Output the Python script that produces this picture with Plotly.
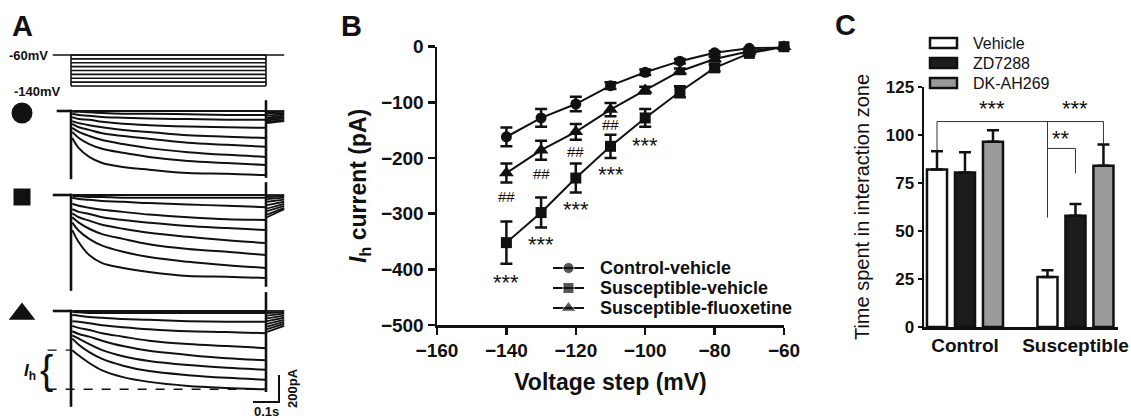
import plotly.graph_objects as go

W, H = 1131, 418
FONT = "Liberation Sans, Arial, sans-serif"
INK = "#111111"

# ---------------- Panel B data (I-V relation) ----------------
voltage_mV = [-140, -130, -120, -110, -100, -90, -80, -70, -60]
ctrl_vehicle = [-162, -128, -103, -70, -46, -26, -11, -3, 0]
ctrl_vehicle_sem = [17, 16, 13, 6, 5, 4, 3, 2, 0]
susc_vehicle = [-352, -298, -236, -179, -128, -81, -38, -12, 0]
susc_vehicle_sem = [38, 27, 26, 21, 16, 10, 6, 4, 0]
susc_fluox = [-227, -186, -153, -113, -78, -44, -22, -8, 0]
susc_fluox_sem = [17, 17, 14, 12, 6, 5, 4, 3, 0]
hash_marks_V = [-140, -130, -120, -110]
hash_marks_y = [-269, -227, -188, -139]
star_marks_V = [-140, -130, -120, -110, -100]
star_marks_y = [-418, -349, -287, -224, -172]

# ---------------- Panel C data (social interaction) ----------------
groups = ["Control", "Susceptible"]
vehicle_mean = [82, 26]
vehicle_sem = [9.5, 3.5]
zd7288_mean = [80.5, 58]
zd7288_sem = [10.5, 6]
dkah269_mean = [96.5, 84]
dkah269_sem = [6, 11]

# ---------------- Panel A data (example traces) ----------------
step_time_s = [0.005, 0.03, 0.07, 0.12, 0.2, 0.3, 0.45, 0.6, 0.75]
protocol_mV = [-60, -70, -80, -90, -100, -110, -120, -130, -140]
circle_pA = [
    [0, 0, 0, 0, 0, 0, 0, 0, 0],
    [-5, -5, -10, -15, -20, -20, -25, -30, -30],
    [-20, -30, -35, -45, -50, -55, -60, -65, -65],
    [-45, -60, -65, -80, -95, -105, -115, -120, -125],
    [-75, -90, -105, -120, -140, -155, -180, -190, -200],
    [-95, -120, -140, -165, -185, -205, -235, -250, -265],
    [-125, -155, -185, -215, -245, -275, -305, -325, -340],
    [-155, -200, -245, -280, -310, -340, -370, -385, -400],
    [-200, -275, -340, -385, -415, -435, -460, -465, -475],
]
square_pA = [
    [0, 0, 0, 0, 0, 0, 0, 0, 0],
    [-5, -10, -15, -15, -20, -20, -20, -20, -20],
    [-20, -30, -35, -45, -50, -60, -70, -80, -90],
    [-65, -80, -95, -110, -125, -145, -165, -180, -185],
    [-105, -125, -140, -165, -185, -205, -230, -245, -260],
    [-135, -165, -190, -220, -250, -280, -310, -335, -355],
    [-165, -205, -250, -290, -325, -365, -400, -420, -445],
    [-205, -265, -325, -375, -420, -460, -495, -520, -540],
    [-260, -350, -445, -505, -540, -570, -600, -605, -615],
]
triangle_pA = [
    [0, 0, 0, 0, 0, 0, 0, 0, 0],
    [-5, -10, -15, -15, -15, -15, -15, -15, -15],
    [-30, -35, -45, -50, -60, -65, -75, -80, -80],
    [-75, -80, -90, -105, -120, -135, -150, -155, -165],
    [-110, -125, -140, -165, -190, -220, -245, -260, -275],
    [-150, -170, -190, -220, -260, -295, -325, -350, -365],
    [-180, -205, -245, -290, -335, -370, -400, -420, -435],
    [-205, -250, -305, -355, -405, -445, -475, -495, -510],
    [-290, -330, -385, -440, -490, -525, -555, -570, -580],
]
circle_tail_start = [0, -10, -20, -35, -50, -60, -70, -80, -90]
circle_tail_end = [0, -5, -15, -25, -35, -45, -55, -65, -75]
square_tail_start = [0, -15, -30, -50, -75, -100, -120, -145, -165]
square_tail_end = [0, -10, -20, -35, -50, -65, -80, -95, -105]
triangle_tail_start = [0, -15, -35, -55, -75, -95, -115, -135, -155]
triangle_tail_end = [0, -10, -20, -35, -50, -65, -80, -95, -110]
onset_peak_pA = {"circle": -505, "square": -710, "triangle": -710}
offset_range_pA = {"circle": (80, -495), "square": (95, -680), "triangle": (140, -600)}
scale_bar_s = 0.1
scale_bar_pA = 200

# ---------------- layout helpers ----------------
def xdom(p0, p1):
    return [p0 / W, p1 / W]

def ydom(ptop, pbot):
    return [1 - pbot / H, 1 - ptop / H]

fig = go.Figure()

# ---------- Panel A geometry ----------
STEP_PX, PX_PER_S = 71, 260.0
PA_PER_PX = 200 / 27.0
STEP_END = step_time_s[-1]
base_px = {"circle": 111, "square": 195, "triangle": 311}
pre_t = {"circle": -0.055, "square": -0.07, "triangle": -0.07}

def ay(group, v):
    return -base_px[group] * PA_PER_PX + v

trace_sets = {
    "circle": (circle_pA, circle_tail_start, circle_tail_end),
    "square": (square_pA, square_tail_start, square_tail_end),
    "triangle": (triangle_pA, triangle_tail_start, triangle_tail_end),
}
for g, (trs, ts, te) in trace_sets.items():
    xs, ys = [], []
    for tr in trs:
        xs += step_time_s + [None]
        ys += [ay(g, v) for v in tr] + [None]
    fig.add_trace(go.Scatter(x=xs, y=ys, mode="lines", line=dict(color=INK, width=2, shape="spline"),
                             xaxis="x3", yaxis="y3", showlegend=False, hoverinfo="skip"))
    xs, ys = [], []
    for a, b in zip(ts, te):
        xs += [STEP_END + 0.004, STEP_END + 0.07, None]
        ys += [ay(g, a), ay(g, b), None]
    fig.add_trace(go.Scatter(x=xs, y=ys, mode="lines", line=dict(color=INK, width=1.8),
                             xaxis="x3", yaxis="y3", showlegend=False, hoverinfo="skip"))
    on = onset_peak_pA[g]
    off = offset_range_pA[g]
    fig.add_trace(go.Scatter(x=[pre_t[g], 0, None, 0, 0, None, STEP_END, STEP_END],
                             y=[ay(g, 0), ay(g, 0), None, ay(g, 10), ay(g, on), None, ay(g, off[0]), ay(g, off[1])],
                             mode="lines", line=dict(color=INK, width=2.6),
                             xaxis="x3", yaxis="y3", showlegend=False, hoverinfo="skip"))

# I_h dashed markers (triangle cell)
ih_top = ay("triangle", triangle_pA[-1][0])
ih_bot = ay("triangle", triangle_pA[-1][-1])
fig.add_trace(go.Scatter(x=[-0.09, 0, None, -0.09, STEP_END], y=[ih_top, ih_top, None, ih_bot, ih_bot],
                         mode="lines", line=dict(color=INK, width=1.4, dash="dash"),
                         xaxis="x3", yaxis="y3", showlegend=False, hoverinfo="skip"))
# scale bars
sb_t = 0.8
sb_y = -402 * PA_PER_PX
fig.add_trace(go.Scatter(x=[sb_t - scale_bar_s, sb_t, sb_t], y=[sb_y, sb_y, sb_y + scale_bar_pA],
                         mode="lines", line=dict(color=INK, width=2),
                         xaxis="x3", yaxis="y3", showlegend=False, hoverinfo="skip"))

# voltage protocol
pxs, pys = [pre_t["square"], STEP_END + 0.07, None], [protocol_mV[0], protocol_mV[0], None]
for v in protocol_mV:
    pxs += [0, STEP_END, None]
    pys += [v, v, None]
pxs += [0, 0, None, STEP_END, STEP_END]
pys += [protocol_mV[0], protocol_mV[-1], None, protocol_mV[0], protocol_mV[-1]]
fig.add_trace(go.Scatter(x=pxs, y=pys, mode="lines", line=dict(color=INK, width=1.6),
                         xaxis="x4", yaxis="y4", showlegend=False, hoverinfo="skip"))

# group symbols (overlay pixel axis)
fig.add_trace(go.Scatter(x=[22, 22, 22], y=[113, 197, 314], mode="markers",
                         marker=dict(symbol=["circle", "square", "triangle-up"], size=[21, 17, 23],
                                     color="#111111", opacity=1, line=dict(width=0)),
                         xaxis="x5", yaxis="y5", showlegend=False, hoverinfo="skip"))

# ---------- Panel B ----------
bspec = [
    ("Control-vehicle", ctrl_vehicle, ctrl_vehicle_sem, "circle", 11),
    ("Susceptible-vehicle", susc_vehicle, susc_vehicle_sem, "square", 11),
    ("Susceptible-fluoxetine", susc_fluox, susc_fluox_sem, "triangle-up", 13),
]
for name, m, e, sym, sz in bspec:
    fig.add_trace(go.Scatter(x=voltage_mV, y=m, name=name, mode="lines+markers",
                             line=dict(color=INK, width=2),
                             marker=dict(symbol=sym, size=sz, color=INK),
                             error_y=dict(type="data", array=e, color=INK, thickness=2.5, width=6),
                             cliponaxis=False, xaxis="x", yaxis="y", showlegend=False))
LEG_B_Y = [268, 288, 308]
for (name, m, e, sym, sz), yy in zip(bspec, LEG_B_Y):
    fig.add_trace(go.Scatter(x=[553, 568.5, 584], y=[yy, yy, yy], mode="lines+markers",
                             line=dict(color=INK, width=2),
                             marker=dict(symbol=sym, size=[0, sz, 0], color=INK),
                             xaxis="x5", yaxis="y5", showlegend=False, hoverinfo="skip"))

# ---------- Panel C ----------
BARGAP, GROUPGAP = 0.24, 0.284
cspec = [("Vehicle", vehicle_mean, vehicle_sem, "#ffffff"),
         ("ZD7288", zd7288_mean, zd7288_sem, "#1c1c1c"),
         ("DK-AH269", dkah269_mean, dkah269_sem, "#9a9a9a")]
for name, m, e, col in cspec:
    fig.add_trace(go.Bar(x=[0, 1], y=m, name=name, marker=dict(color=col, line=dict(color=INK, width=2.5)),
                         error_y=dict(type="data", array=e, arrayminus=[0, 0], symmetric=False,
                                      color=INK, thickness=2.5, width=6),
                         xaxis="x2", yaxis="y2", showlegend=False))

slot = (1 - BARGAP) / 3
cv, sv, sz_, sd = -slot, 1 - slot, 1.0, 1 + slot
shapes = []
def seg(x0, y0, x1, y1):
    shapes.append(dict(type="line", xref="x2", yref="y2", x0=x0, y0=y0, x1=x1, y1=y1,
                       line=dict(color="#333", width=1)))
seg(cv, 92, cv, 107); seg(cv, 107, sd, 107); seg(sd, 107, sd, 95); seg(sv, 107, sv, 57)
seg(sv, 93, sz_, 93); seg(sz_, 93, sz_, 80)

for i, (name, m, e, col) in enumerate(cspec):
    yc = 43 + 20 * i
    shapes.append(dict(type="rect", xref="paper", yref="paper", x0=930 / W, x1=957 / W,
                       y0=1 - (yc + 5) / H, y1=1 - (yc - 5) / H,
                       fillcolor=col, line=dict(color=INK, width=2.5)))

ann = []
def txt(x, y, s, size, xref="x5", yref="y5", bold=False, **kw):
    ann.append(dict(x=x, y=y, xref=xref, yref=yref, text=s, showarrow=False,
                    font=dict(family=FONT, size=size, color=INK, weight="bold" if bold else "normal"), **kw))

for i, (name, m, e, col) in enumerate(cspec):
    txt(971, 43 + 20 * i, name, 16, xanchor="left")
for (name, m, e, sym, sz), yy in zip(bspec, LEG_B_Y):
    txt(598, yy, name, 18, bold=True, xanchor="left")
txt((cv + sv) / 2, 114, "***", 22, xref="x2", yref="y2")
txt((sv + sd) / 2, 114, "***", 22, xref="x2", yref="y2")
txt((sv + sz_) / 2, 98, "**", 22, xref="x2", yref="y2")

for v, y in zip(hash_marks_V, hash_marks_y):
    txt(v, y, "##", 15, xref="x", yref="y")
for v, y in zip(star_marks_V, star_marks_y):
    txt(v, y - 6, "***", 22, xref="x", yref="y")

txt(22, 26, "A", 29, bold=True)
txt(351, 26, "B", 29, bold=True)
txt(845, 25, "C", 29, bold=True)
txt(50, 55, "-60mV", 13, bold=True, xanchor="right")
txt(12, 91, "-140mV", 13, bold=True, xanchor="left")
txt(46, 370, "{", 40)
txt(30, 372, "<i>I</i><sub>h</sub>", 17, bold=True)
txt(266, 411, "0.1s", 13, bold=True)
txt(292, 388, "200pA", 13, bold=True, textangle=-90)

# ---------- axes ----------
axis_common = dict(showgrid=False, zeroline=False, showline=True, linecolor=INK, linewidth=2.5,
                   ticks="outside", tickcolor=INK, tickwidth=2.5, automargin=False)
hidden = dict(visible=False, automargin=False, showgrid=False, zeroline=False, fixedrange=True)
a_x_range = [(0 - STEP_PX) / PX_PER_S, (300 - STEP_PX) / PX_PER_S]
mv_per_px = 80 / 31.0
fig.update_layout(
    template="none",
    width=W, height=H, margin=dict(l=0, r=0, t=0, b=0, pad=0, autoexpand=False),
    paper_bgcolor="white", plot_bgcolor="rgba(0,0,0,0)",
    font=dict(family=FONT, color=INK),
    showlegend=False,
    barmode="group", bargap=BARGAP, bargroupgap=GROUPGAP,
    xaxis=dict(domain=xdom(437, 784), range=[-160, -60], anchor="y", ticklen=7,
               tickvals=[-160, -140, -120, -100, -80, -60],
               tickfont=dict(size=19, weight="bold", color=INK, family=FONT),
               title=dict(text="<b>Voltage step (mV)</b>", font=dict(size=23, color=INK, family=FONT), standoff=14),
               **axis_common),
    yaxis=dict(domain=ydom(46.7, 325), range=[-500, 0], anchor="x", ticklen=7,
               tickvals=[-500, -400, -300, -200, -100, 0],
               tickfont=dict(size=19, weight="bold", color=INK, family=FONT),
               title=dict(text="<b><i>I</i><sub>h</sub> current (pA)</b>",
                          font=dict(size=23, color=INK, family=FONT), standoff=8),
               **axis_common),
    xaxis2=dict(domain=xdom(924, 1118), range=[-0.371, 1.385], anchor="y2",
                tickvals=[0, 1], ticktext=groups, ticklen=0,
                tickfont=dict(size=19, weight="bold", color=INK, family=FONT),
                **{k: v for k, v in axis_common.items() if k != "ticks"}, ticks=""),
    yaxis2=dict(domain=ydom(87, 327), range=[0, 125], anchor="x2", ticklen=4,
                tickvals=[0, 25, 50, 75, 100, 125],
                tickfont=dict(size=17, weight="bold", color=INK, family=FONT),
                title=dict(text="Time spent in interaction zone",
                           font=dict(size=20, color=INK, family=FONT), standoff=11),
                **axis_common),
    xaxis3=dict(domain=[0, 300 / W], range=a_x_range, anchor="y3", **hidden),
    yaxis3=dict(domain=[0, 1], range=[-H * PA_PER_PX, 0], anchor="x3", **hidden),
    xaxis4=dict(domain=[0, 300 / W], range=a_x_range, anchor="y4", **hidden),
    yaxis4=dict(domain=[0, 1], range=[-60 - (H - 55) * mv_per_px, -60 + 55 * mv_per_px], anchor="x4", **hidden),
    xaxis5=dict(domain=[0, 1], range=[0, W], anchor="y5", **hidden),
    yaxis5=dict(domain=[0, 1], range=[H, 0], anchor="x5", **hidden),
    shapes=shapes, annotations=ann,
)
fig.write_html("out.html", config={"displayModeBar": False, "staticPlot": True},
               post_script="document.body.style.margin='0';document.body.style.padding='0';"
                           "document.body.style.overflow='hidden';")
